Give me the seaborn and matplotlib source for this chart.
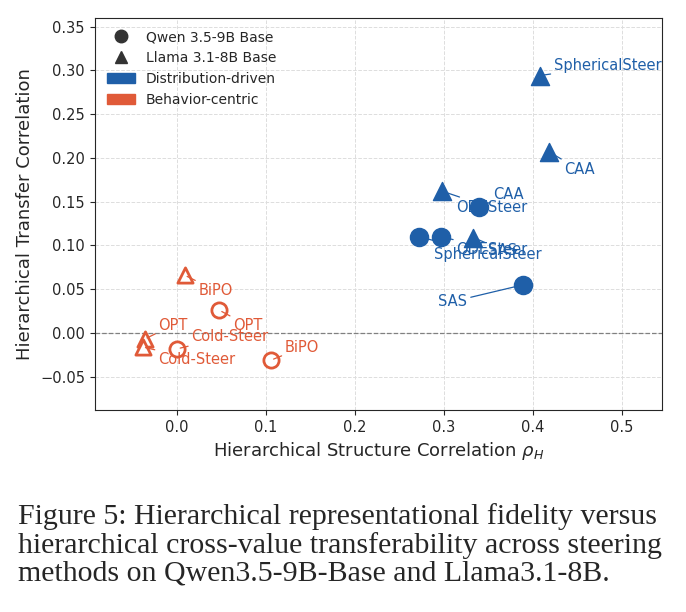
import matplotlib
matplotlib.use("Agg")
import matplotlib.pyplot as plt
import seaborn as sns
import pandas as pd
from matplotlib.lines import Line2D
from matplotlib.patches import Patch

sns.set_style("ticks")

BLUE = "#1f5fa8"
ORANGE = "#e05a38"

methods = ["SphericalSteer", "ODESteer", "CAA", "SAS",
           "SphericalSteer", "ODESteer", "SAS", "CAA",
           "BiPO", "OPT", "OPT", "Cold-Steer", "Cold-Steer", "BiPO"]
models = ["Qwen", "Qwen", "Qwen", "Qwen",
          "Llama", "Llama", "Llama", "Llama",
          "Llama", "Qwen", "Llama", "Llama", "Qwen", "Qwen"]
groups = ["dist"] * 8 + ["beh"] * 6
rho_h = [0.272, 0.297, 0.340, 0.389,
         0.408, 0.298, 0.333, 0.418,
         0.009, 0.048, -0.036, -0.038, 0.001, 0.106]
transfer = [0.110, 0.110, 0.144, 0.055,
            0.294, 0.162, 0.109, 0.207,
            0.066, 0.026, -0.007, -0.016, -0.018, -0.031]
# label offsets in points
offsets = [(11, -13), (11, -9), (10, 9), (-40, -12),
           (10, 7), (10, -12), (11, -9), (11, -13),
           (10, -11), (10, -11), (10, 10), (11, -9), (10, 9), (10, 9)]

df = pd.DataFrame({"method": methods, "model": models, "group": groups,
                   "rho": rho_h, "transfer": transfer})

fig = plt.figure(figsize=(6.86, 6.12), dpi=100)
ax = fig.add_axes([0.138, 0.33, 0.827, 0.641])

for (model, group), sub in df.groupby(["model", "group"]):
    color = BLUE if group == "dist" else ORANGE
    marker = "o" if model == "Qwen" else "^"
    if group == "dist":
        sns.scatterplot(data=sub, x="rho", y="transfer", marker=marker, s=170,
                        color=color, edgecolor=color, linewidth=1, ax=ax, zorder=3)
    else:
        sns.scatterplot(data=sub, x="rho", y="transfer", marker=marker, s=120,
                        facecolor="white", edgecolor=color, linewidth=2, ax=ax, zorder=3)

for i, row in df.iterrows():
    color = BLUE if row.group == "dist" else ORANGE
    dx, dy = offsets[i]
    ax.annotate(row.method, (row.rho, row.transfer), xytext=(dx, dy),
                textcoords="offset points", ha="left" if dx > 0 else "right",
                va="center", fontsize=10.5, color=color,
                arrowprops=dict(arrowstyle="-", color=color, lw=0.9,
                                shrinkA=0, shrinkB=2))

ax.axhline(0, color="gray", ls="--", lw=0.9, zorder=1)
ax.grid(True, ls="--", color="#dddddd", lw=0.7)
ax.set_xlim(-0.092, 0.545)
ax.set_ylim(-0.088, 0.36)
ax.set_xticks([0.0, 0.1, 0.2, 0.3, 0.4, 0.5])
ax.set_xticklabels(["0.0", "0.1", "0.2", "0.3", "0.4", "0.5"])
ax.set_yticks([-0.05, 0, 0.05, 0.1, 0.15, 0.2, 0.25, 0.3, 0.35])
ax.set_yticklabels(["−0.05", "0.00", "0.05", "0.10", "0.15", "0.20", "0.25", "0.30", "0.35"])
ax.tick_params(labelsize=10.5)
ax.set_xlabel(r"Hierarchical Structure Correlation $\rho_H$", fontsize=13)
ax.set_ylabel("Hierarchical Transfer Correlation", fontsize=13)

handles = [
    Line2D([], [], marker="o", ls="", color="#333333", markersize=9, label="Qwen 3.5-9B Base"),
    Line2D([], [], marker="^", ls="", color="#333333", markersize=9, label="Llama 3.1-8B Base"),
    Patch(color=BLUE, label="Distribution-driven"),
    Patch(color=ORANGE, label="Behavior-centric"),
]
ax.legend(handles=handles, loc="upper left", frameon=False, fontsize=10)

caption = ("Figure 5: Hierarchical representational fidelity versus\n"
           "hierarchical cross-value transferability across steering\n"
           "methods on Qwen3.5-9B-Base and Llama3.1-8B.")
fig.text(0.026, 0.11, caption, family="Liberation Serif", fontsize=21.5,
         va="center", ha="left", linespacing=1.1)

fig.savefig("out.png", dpi=100)
